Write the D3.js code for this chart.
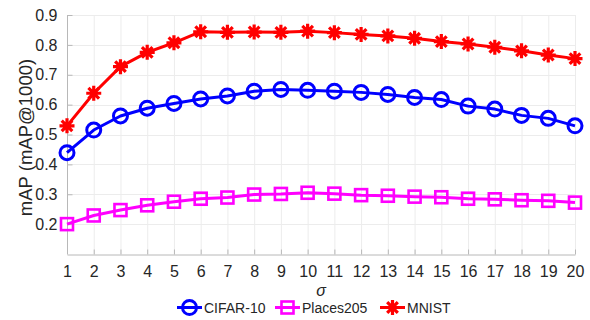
<!DOCTYPE html>
<html>
<head>
<meta charset="utf-8">
<script src="https://cdn.jsdelivr.net/npm/d3@7"></script>
<style>
  html, body { margin: 0; padding: 0; background: #fff; }
  svg text { font-family: "Liberation Sans", Arial, sans-serif; fill: #262626; }
</style>
</head>
<body>
<svg id="chart" width="590" height="320"></svg>
<script>
// sigma values on the x axis
const sigma = d3.range(1, 21);
// mAP@1000 for each dataset, one value per sigma
const cifar10 = [0.439, 0.515, 0.562, 0.588, 0.604, 0.619, 0.629, 0.645, 0.651, 0.648,
                 0.645, 0.641, 0.634, 0.624, 0.617, 0.595, 0.585, 0.564, 0.554, 0.529];
const places205 = [0.200, 0.229, 0.247, 0.263, 0.275, 0.285, 0.289, 0.299, 0.301, 0.305,
                   0.302, 0.297, 0.295, 0.292, 0.290, 0.285, 0.283, 0.280, 0.278, 0.272];
const mnist = [0.529, 0.638, 0.727, 0.775, 0.807, 0.844, 0.842, 0.843, 0.842, 0.846,
               0.841, 0.835, 0.830, 0.822, 0.811, 0.803, 0.792, 0.780, 0.766, 0.754];
const yTicks = [0.2, 0.3, 0.4, 0.5, 0.6, 0.7, 0.8, 0.9];
const seriesNames = ["CIFAR-10", "Places205", "MNIST"];

const svg = d3.select("#chart");
const plotLeft = 67, plotRight = 575, plotTop = 15, plotBottom = 254;

const x = d3.scaleLinear().domain([1, 20]).range([plotLeft, plotRight]);
const y = d3.scaleLinear().domain([0.1, 0.9]).range([plotBottom, plotTop]);

// grid
const grid = svg.append("g").attr("stroke", "#ececec").attr("stroke-width", 1);
grid.selectAll(".gx").data(sigma.slice(1)).join("line")
  .attr("x1", d => x(d) + 0.5).attr("x2", d => x(d) + 0.5)
  .attr("y1", plotTop).attr("y2", plotBottom);
grid.selectAll(".gy").data(yTicks).join("line")
  .attr("x1", plotLeft).attr("x2", plotRight)
  .attr("y1", d => Math.round(y(d)) + 0.5).attr("y2", d => Math.round(y(d)) + 0.5);

// axes
const xAxis = d3.axisBottom(x).tickValues(sigma).tickFormat(d3.format("d"))
  .tickSizeInner(-5).tickSizeOuter(0).tickPadding(11);
const gx = svg.append("g").attr("transform", `translate(0,${plotBottom + 0.5})`).call(xAxis);
const yAxis = d3.axisLeft(y).tickValues(yTicks).tickFormat(d3.format(".1f"))
  .tickSizeInner(-5).tickSizeOuter(0).tickPadding(10);
const gy = svg.append("g").attr("transform", `translate(${plotLeft + 0.5},0)`).call(yAxis);
[gx, gy].forEach(g => {
  g.select(".domain").attr("stroke", "#b8b8b8").attr("stroke-width", 1);
  g.selectAll(".tick line").attr("stroke", "#b8b8b8");
  g.selectAll(".tick text").attr("font-size", 16).attr("fill", "#262626")
    .attr("font-family", "Liberation Sans, Arial, sans-serif");
});
gy.select(".domain").attr("d", `M0,${plotTop}V${plotBottom}`);

// axis titles
svg.append("text").attr("transform", `translate(32,${(plotTop + plotBottom) / 2 + 3}) rotate(-90)`)
  .attr("text-anchor", "middle").attr("font-size", 18.5).text("mAP (mAP@1000)");
svg.append("text").attr("x", (plotLeft + plotRight) / 2).attr("y", 295.5)
  .attr("text-anchor", "middle").attr("font-size", 16).attr("font-style", "italic")
  .attr("font-family", "Liberation Serif, serif").text("σ");

// marker drawers
function circleMarker(g, color) {
  g.append("circle").attr("r", 7).attr("fill", "none").attr("stroke", color).attr("stroke-width", 3);
}
function squareMarker(g, color) {
  g.append("rect").attr("x", -6).attr("y", -6).attr("width", 12).attr("height", 12)
    .attr("fill", "none").attr("stroke", color).attr("stroke-width", 2.6);
}
function starMarker(g, color) {
  const r = 7.5;
  const d = [0, 45, 90, 135].map(a => {
    const t = a * Math.PI / 180, dx = r * Math.cos(t), dy = r * Math.sin(t);
    return `M${-dx},${-dy}L${dx},${dy}`;
  }).join("");
  g.append("path").attr("d", d).attr("stroke", color).attr("stroke-width", 3.2).attr("fill", "none");
}

const series = [
  { name: seriesNames[0], values: cifar10, color: "#0000ff", marker: circleMarker },
  { name: seriesNames[1], values: places205, color: "#ff00ff", marker: squareMarker },
  { name: seriesNames[2], values: mnist, color: "#ff0000", marker: starMarker }
];

const line = d3.line().x((d, i) => x(sigma[i])).y(d => y(d));

series.forEach(s => {
  svg.append("path").datum(s.values).attr("d", line)
    .attr("fill", "none").attr("stroke", s.color).attr("stroke-width", 3)
    .attr("stroke-linejoin", "round");
  s.values.forEach((v, i) => {
    const g = svg.append("g").attr("transform", `translate(${x(sigma[i])},${y(v)})`);
    s.marker(g, s.color);
  });
});

// legend
const legendX = [177, 275, 380];
series.forEach((s, i) => {
  const lg = svg.append("g").attr("transform", `translate(${legendX[i]},307.5)`);
  lg.append("line").attr("x1", 0).attr("x2", 25).attr("y1", 0).attr("y2", 0)
    .attr("stroke", s.color).attr("stroke-width", 3);
  const m = lg.append("g").attr("transform", "translate(12.5,0)");
  s.marker(m, s.color);
  lg.append("text").attr("x", 27).attr("y", 5).attr("font-size", 14).text(s.name);
});
</script>
</body>
</html>
